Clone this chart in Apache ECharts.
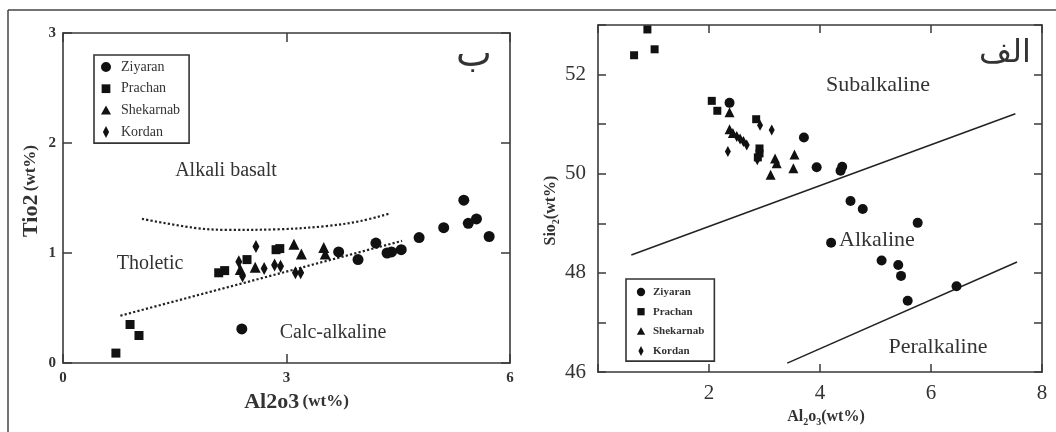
<!DOCTYPE html>
<html>
<head>
<meta charset="utf-8">
<script src="https://cdn.jsdelivr.net/npm/echarts@6/dist/echarts.min.js"></script>
<style>
  html, body { margin: 0; padding: 0; background: #fff; }
  #chart { width: 1056px; height: 432px; }
</style>
</head>
<body>
<div id="chart"></div>
<script>
// ---- Panel B: TiO2 vs Al2O3 (wt%) ----
const tiZiyaran = [[5.38,1.48],[5.44,1.27],[5.55,1.31],[5.72,1.15],[5.11,1.23],[4.78,1.14],[4.54,1.03],[4.41,1.01],[4.35,1.00],[4.20,1.09],[3.96,0.94],[3.70,1.01],[2.40,0.31]];
const tiPrachan = [[0.71,0.09],[0.90,0.35],[1.02,0.25],[2.09,0.82],[2.17,0.84],[2.47,0.94],[2.86,1.03],[2.91,1.04]];
const tiShekarnab = [[3.10,1.08],[3.20,0.99],[3.50,1.05],[3.52,0.99],[2.58,0.87],[2.38,0.85]];
const tiKordan = [[2.59,1.06],[2.36,0.92],[2.70,0.86],[2.84,0.89],[2.92,0.88],[3.12,0.82],[3.19,0.82],[2.41,0.79]];
// field boundaries (dotted)
const tiUpperBoundary = [[1.06,1.31],[1.75,1.23],[2.20,1.21],[2.87,1.215],[3.54,1.245],[3.99,1.29],[4.39,1.36]];
const tiLowerBoundary = [[0.77,0.43],[4.55,1.11]];
const tiXTicks = [0, 6, 3];   // min, max, interval
const tiYTicks = [0, 3, 1];

// ---- Panel Alef: SiO2 vs Al2O3 (wt%) ----
const siZiyaran = [[2.37,51.43],[3.71,50.73],[3.94,50.13],[4.40,50.14],[4.37,50.06],[4.55,49.45],[4.77,49.29],[5.76,49.01],[4.20,48.61],[5.11,48.25],[5.41,48.16],[5.46,47.94],[5.58,47.44],[6.46,47.73]];
const siPrachan = [[0.65,52.39],[0.89,52.91],[1.02,52.51],[2.05,51.47],[2.15,51.27],[2.85,51.10],[2.91,50.51],[2.91,50.41],[2.88,50.33]];
const siShekarnab = [[2.37,51.24],[2.37,50.90],[2.43,50.82],[3.19,50.31],[3.22,50.21],[3.11,49.98],[3.54,50.39],[3.52,50.11]];
const siKordan = [[2.34,50.45],[2.50,50.75],[2.56,50.70],[2.62,50.65],[2.68,50.58],[2.87,50.28],[2.92,50.98],[3.13,50.88]];
const siUpperBoundary = [[0.60,48.36],[7.52,51.21]];
const siLowerBoundary = [[3.41,46.18],[7.55,48.22]];
const siXTicks = [0, 8, 2];
const siYTicks = [46, 53, 1];

const groups = ['Ziyaran', 'Prachan', 'Shekarnab', 'Kordan'];

const SERIF = '"Liberation Serif", "DejaVu Serif", serif';
const INK = '#111';
const AXIS = '#3a3a3a';
const TEXT = '#333';
const diamondPath = 'path://M0,-7L3.6,0L0,7L-3.6,0Z';

// legend glyphs: extra move-to points pad the bounding box so the
// filled shape stays smaller than the icon cell
const legendIcons = {
  Ziyaran: 'path://M-1,-1M11,11M5,0A5,5,0,1,1,4.99,0Z',
  Prachan: 'path://M-1.5,-1.5M9.5,9.5M0,0L8,0L8,8L0,8Z',
  Shekarnab: 'path://M-1,-1M11,11M5,0L10,9L0,9Z',
  Kordan: diamondPath
};

function valueAxis(range, grid, pos, extra) {
  return Object.assign({
    type: 'value', gridIndex: grid, position: pos,
    min: range[0], max: range[1], interval: range[2],
    axisLine: { show: true, onZero: false, lineStyle: { color: AXIS, width: 1.6 } },
    axisTick: { show: true, inside: true, length: 9, lineStyle: { color: AXIS, width: 1.5 } },
    splitLine: { show: false },
    axisLabel: { show: false }
  }, extra || {});
}

function scatter(name, data, symbol, size, xi, yi) {
  return {
    type: 'scatter', name: name, data: data, symbol: symbol, symbolSize: size,
    xAxisIndex: xi, yAxisIndex: yi, itemStyle: { color: INK, opacity: 1 },
    z: 3
  };
}

function boundary(name, data, xi, yi, dotted, smooth) {
  return {
    type: 'line', name: name, data: data, xAxisIndex: xi, yAxisIndex: yi,
    showSymbol: false, smooth: smooth ? 0.35 : false, silent: true,
    lineStyle: { color: '#222', width: dotted ? 2.2 : 1.5, type: dotted ? 'dotted' : 'solid' },
    z: 2
  };
}

function label(text, x, y, size, extra) {
  return {
    type: 'text', x: x, y: y, silent: true,
    style: Object.assign({
      text: text, font: size + 'px ' + SERIF, fill: TEXT,
      align: 'center', verticalAlign: 'middle',
      textAlign: 'center', textVerticalAlign: 'middle'
    }, extra || {})
  };
}

function legendData() {
  return groups.map(g => ({ name: g, icon: legendIcons[g] }));
}

const option = {
  animation: false,
  backgroundColor: '#fff',
  grid: [
    { left: 63, top: 33, width: 447, height: 330 },
    { left: 598, top: 25, width: 444, height: 352 }
  ],
  xAxis: [
    valueAxis(tiXTicks, 0, 'bottom', {
      axisLabel: { show: true, margin: 8, fontFamily: SERIF, fontWeight: 'bold', fontSize: 15, color: TEXT },
      name: '{b|Al2o3} {s|(wt%)}', nameLocation: 'middle', nameGap: 28,
      nameTextStyle: { padding: [0, 0, 0, 20], rich: {
        b: { fontFamily: SERIF, fontWeight: 'bold', fontSize: 22, color: TEXT },
        s: { fontFamily: SERIF, fontWeight: 'bold', fontSize: 17, color: TEXT } } }
    }),
    valueAxis(tiXTicks, 0, 'top'),
    valueAxis(siXTicks, 1, 'bottom', {
      axisTick: { show: true, inside: true, length: 8, lineStyle: { color: AXIS, width: 1.5 } },
      axisLabel: { show: true, margin: 11, fontFamily: SERIF, fontSize: 21, color: TEXT,
        formatter: v => (v === 0 ? '' : String(v)) },
      name: '{m|Al}{sub|2}{m|o}{sub|3}{m|(wt%)}', nameLocation: 'middle', nameGap: 30,
      nameTextStyle: { padding: [0, 0, 0, 12], rich: {
        m: { fontFamily: SERIF, fontWeight: 'bold', fontSize: 16, color: TEXT, lineHeight: 20 },
        sub: { fontFamily: SERIF, fontWeight: 'bold', fontSize: 10, color: TEXT, lineHeight: 8, verticalAlign: 'bottom' } } }
    }),
    valueAxis(siXTicks, 1, 'top', {
      axisTick: { show: true, inside: true, length: 8, lineStyle: { color: AXIS, width: 1.5 } }
    })
  ],
  yAxis: [
    valueAxis(tiYTicks, 0, 'left', {
      axisLabel: { show: true, margin: 7, fontFamily: SERIF, fontWeight: 'bold', fontSize: 15, color: TEXT },
      name: '{b|Tio2} {s|(wt%)}', nameLocation: 'middle', nameGap: 21, nameRotate: 90,
      nameTextStyle: { padding: [0, 0, 0, 14], rich: {
        b: { fontFamily: SERIF, fontWeight: 'bold', fontSize: 22, color: TEXT },
        s: { fontFamily: SERIF, fontWeight: 'bold', fontSize: 17, color: TEXT } } }
    }),
    valueAxis(tiYTicks, 0, 'right'),
    valueAxis(siYTicks, 1, 'left', {
      axisTick: { show: true, inside: true, length: 8, lineStyle: { color: AXIS, width: 1.5 } },
      axisLabel: { show: true, margin: 12, fontFamily: SERIF, fontSize: 21, color: TEXT,
        formatter: v => (v % 2 === 0 ? String(v) : '') },
      name: '{m|Sio}{sub|2}{m|(wt%)}', nameLocation: 'middle', nameGap: 34, nameRotate: 90,
      nameTextStyle: { padding: [0, 24, 0, 0], rich: {
        m: { fontFamily: SERIF, fontWeight: 'bold', fontSize: 16, color: TEXT, lineHeight: 20 },
        sub: { fontFamily: SERIF, fontWeight: 'bold', fontSize: 10, color: TEXT, lineHeight: 8, verticalAlign: 'bottom' } } }
    }),
    valueAxis(siYTicks, 1, 'right', {
      axisTick: { show: true, inside: true, length: 8, lineStyle: { color: AXIS, width: 1.5 } }
    })
  ],
  legend: [
    {
      data: legendData(),
      orient: 'vertical', left: 94, top: 55, selectedMode: false,
      itemWidth: 20, itemHeight: 12, itemGap: 7.7,
      padding: [5, 9, 4, 6],
      borderColor: '#333', borderWidth: 1.6,
      textStyle: { fontFamily: SERIF, fontSize: 14, color: TEXT, lineHeight: 14 }
    },
    {
      data: legendData(),
      orient: 'vertical', left: 626, top: 279, selectedMode: false,
      itemWidth: 14, itemHeight: 10, itemGap: 7.7,
      padding: [7, 10, 4, 10],
      borderColor: '#333', borderWidth: 1.6,
      textStyle: { fontFamily: SERIF, fontSize: 11, fontWeight: 'bold', color: TEXT, lineHeight: 12 }
    }
  ],
  series: [
    boundary('tholeiitic / alkali boundary', tiUpperBoundary, 0, 0, true, true),
    boundary('tholeiitic / calc-alkaline boundary', tiLowerBoundary, 0, 0, true, false),
    scatter('Ziyaran', tiZiyaran, 'circle', 11, 0, 0),
    scatter('Prachan', tiPrachan, 'rect', 9, 0, 0),
    scatter('Shekarnab', tiShekarnab, 'triangle', 11, 0, 0),
    scatter('Kordan', tiKordan, diamondPath, [7, 13], 0, 0),

    boundary('subalkaline / alkaline boundary', siUpperBoundary, 2, 2, false, false),
    boundary('alkaline / peralkaline boundary', siLowerBoundary, 2, 2, false, false),
    scatter('Ziyaran', siZiyaran, 'circle', 10, 2, 2),
    scatter('Prachan', siPrachan, 'rect', 8, 2, 2),
    scatter('Shekarnab', siShekarnab, 'triangle', 10, 2, 2),
    scatter('Kordan', siKordan, diamondPath, [6, 11], 2, 2)
  ],
  graphic: [
    // outer frame
    { type: 'line', silent: true, shape: { x1: 8, y1: 10, x2: 1056, y2: 10 }, style: { stroke: '#444', lineWidth: 1.5 } },
    { type: 'line', silent: true, shape: { x1: 8, y1: 10, x2: 8, y2: 432 }, style: { stroke: '#444', lineWidth: 1.5 } },
    // panel B field names
    label('Alkali basalt', 226, 171, 20),
    label('Tholetic', 150, 264, 20),
    label('Calc-alkaline', 333, 333, 20),
    label('ب', 474, 56, 38, { font: '38px "DejaVu Sans", sans-serif' }),
    // panel Alef field names
    label('Subalkaline', 878, 85, 22),
    label('Alkaline', 877, 240, 22),
    label('Peralkaline', 938, 347, 22),
    label('الف', 1005, 54, 32, { font: '32px "DejaVu Sans", sans-serif' })
  ]
};

const chart = echarts.init(document.getElementById('chart'), null, { renderer: 'canvas' });
chart.setOption(option);
</script>
</body>
</html>
